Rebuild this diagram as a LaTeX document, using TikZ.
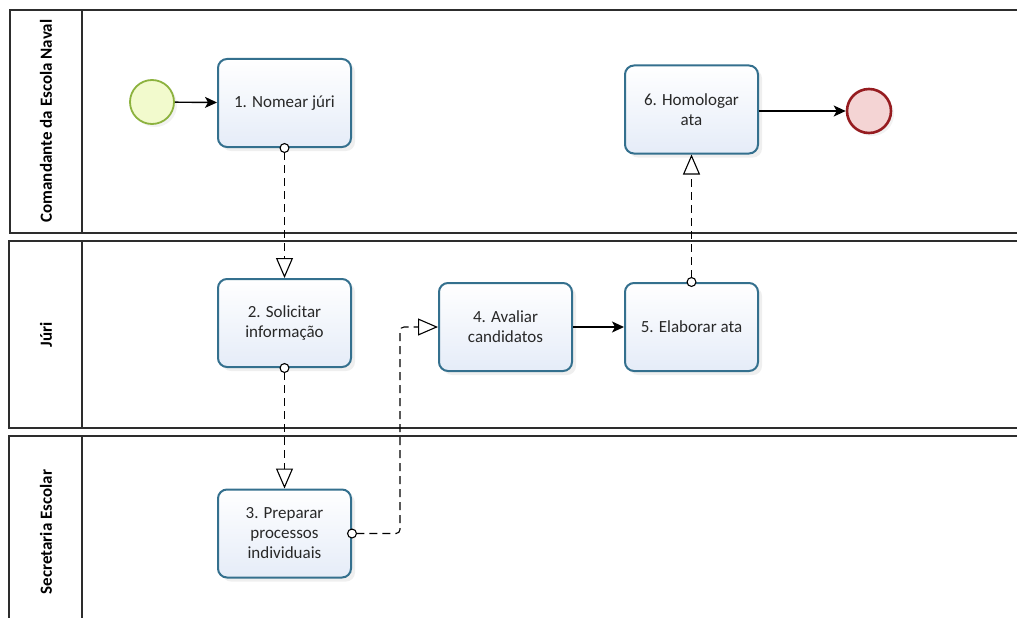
\documentclass[tikz,border=0pt]{standalone}
\usepackage{fontspec}
\setmainfont{Carlito}
\usetikzlibrary{arrows.meta,shadows,calc}
\definecolor{taskline}{RGB}{52,112,142}
\definecolor{taskfill}{RGB}{229,236,248}
\definecolor{laneline}{RGB}{45,45,45}
\definecolor{startline}{RGB}{140,178,62}
\definecolor{startfill}{RGB}{242,250,205}
\definecolor{endline}{RGB}{150,28,32}
\definecolor{endfill}{RGB}{244,212,212}
\definecolor{txt}{RGB}{40,40,40}
\tikzset{
  task/.style={draw=taskline, line width=2pt, rounded corners=9pt,
    top color=white, bottom color=taskfill, minimum width=133pt, minimum height=88pt,
    inner sep=0pt, align=center, font=\fontsize{17}{20}\selectfont, text=txt,
    drop shadow={opacity=0.12, shadow xshift=4pt, shadow yshift=-4pt}},
  startev/.style={circle, draw=startline, line width=1.8pt, fill=startfill, minimum size=44pt, inner sep=0pt,
    drop shadow={opacity=0.1, shadow xshift=3pt, shadow yshift=-3pt}},
  endev/.style={circle, draw=endline, line width=2.6pt, fill=endfill, minimum size=44pt, inner sep=0pt,
    drop shadow={opacity=0.1, shadow xshift=3pt, shadow yshift=-3pt}},
  lane/.style={draw=laneline, line width=1.3pt},
  lanelabel/.style={rotate=90, font=\fontsize{17}{20}\selectfont\bfseries, text=black},
  seqflow/.style={draw=black, line width=1.4pt, -{Stealth[length=12pt,width=11pt,inset=3pt]}},
  msgflow/.style={draw=black, line width=1.1pt, dash pattern=on 8pt off 5pt,
    {Circle[length=10pt, fill=white, line width=1.1pt]}-{Triangle[open, length=20pt, width=17pt, line width=1.1pt]},
    shorten <=-5pt}
}
\begin{document}
\begin{tikzpicture}[x=1pt,y=-1pt]
\useasboundingbox (0,0) rectangle (1017,618);
\fill[white] (0,0) rectangle (1017,618);
% lanes
\draw[lane] (1020,10) -- (10,10) -- (10,233) -- (1020,233);
\draw[lane] (82,10) -- (82,233);
\draw[lane] (1020,241) -- (9,241) -- (9,428) -- (1020,428);
\draw[lane] (82,241) -- (82,428);
\draw[lane] (1020,436) -- (9,436) -- (9,620);
\draw[lane] (82,436) -- (82,620);
\node[lanelabel] (l1) at (46,121) {Comandante da Escola Naval};
\node[lanelabel] (l2) at (46,335) {Júri};
\node[lanelabel] (l3) at (46,532) {Secretaria Escolar};
% events and tasks
\node[startev] (s) at (152,102) {};
\node[task] (t1) at (284.5,103) {1. Nomear júri};
\node[task] (t2) at (284.5,323) {2. Solicitar\\informação};
\node[task] (t3) at (284.5,533.5) {3. Preparar\\processos\\individuais};
\node[task] (t4) at (505.5,327) {4. Avaliar\\candidatos};
\node[task] (t5) at (691.5,327) {5. Elaborar ata};
\node[task] (t6) at (691.5,109.5) {6. Homologar\\ata};
\node[endev] (e) at (869,111) {};
\coordinate (bend) at (400,430);
% flows
\draw[seqflow] (s) -- (t1);
\draw[seqflow] (t4) -- (t5);
\draw[seqflow] (t6.east |- e) -- (e);
\draw[msgflow] (t1.south) -- (t2.north);
\draw[msgflow] (t2.south) -- (t3.north);
\draw[msgflow, rounded corners=4pt] (t3.east) -| (bend) |- (t4.west);
\draw[msgflow] (t5.north) -- (t6.south);
\end{tikzpicture}
\end{document}
